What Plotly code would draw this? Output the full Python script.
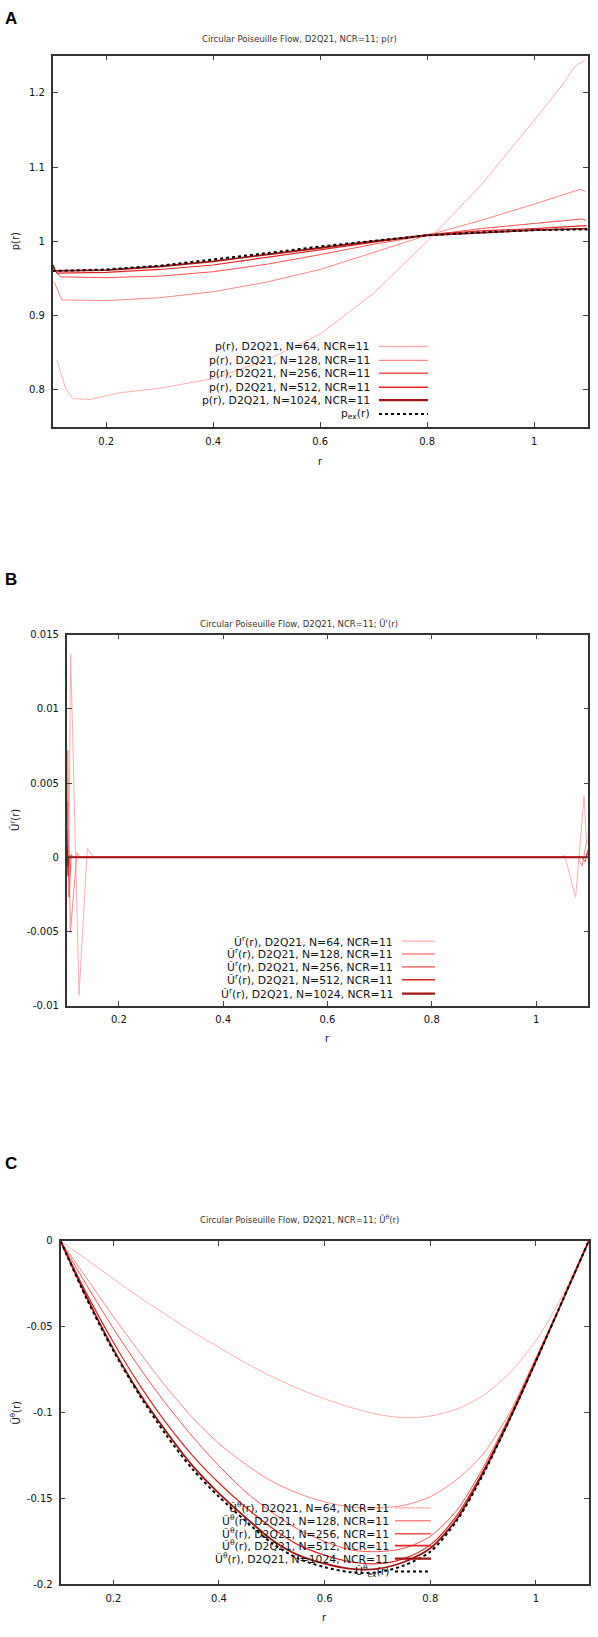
import plotly.graph_objects as go

W, H = 598, 1637

# ---------------- Panel A : p(r) ----------------
rA_64 = [0.108, 0.125, 0.138, 0.17, 0.226, 0.3, 0.4, 0.5, 0.6, 0.7, 0.8, 0.9, 1.0, 1.05, 1.077, 1.095]
pA_64 = [0.840, 0.800, 0.788, 0.787, 0.796, 0.802, 0.815, 0.840, 0.875, 0.930, 1.000, 1.075, 1.163, 1.208, 1.236, 1.244]
rA_128 = [0.103, 0.117, 0.2, 0.3, 0.4, 0.5, 0.6, 0.7, 0.8, 0.9, 1.0, 1.086, 1.095]
pA_128 = [0.945, 0.921, 0.920, 0.924, 0.932, 0.945, 0.962, 0.985, 1.008, 1.028, 1.050, 1.070, 1.067]
rA_256 = [0.102, 0.115, 0.2, 0.3, 0.4, 0.5, 0.6, 0.7, 0.8, 0.9, 1.0, 1.09, 1.097]
pA_256 = [0.962, 0.952, 0.951, 0.953, 0.959, 0.969, 0.982, 0.996, 1.008, 1.017, 1.024, 1.030, 1.028]
rA_512 = [0.101, 0.108, 0.2, 0.3, 0.4, 0.5, 0.6, 0.7, 0.8, 0.9, 1.0, 1.098]
pA_512 = [0.966, 0.957, 0.958, 0.962, 0.968, 0.978, 0.988, 0.999, 1.009, 1.014, 1.017, 1.021]
rA_1024 = [0.1005, 0.104, 0.2, 0.3, 0.4, 0.5, 0.6, 0.7, 0.8, 0.9, 1.0, 1.099]
pA_1024 = [0.968, 0.960, 0.961, 0.966, 0.973, 0.982, 0.991, 1.000, 1.008, 1.012, 1.015, 1.017]
rA_ex = [0.1, 0.2, 0.3, 0.4, 0.5, 0.6, 0.7, 0.8, 0.9, 1.0, 1.1]
pA_ex = [0.960, 0.962, 0.967, 0.975, 0.984, 0.993, 1.001, 1.008, 1.012, 1.015, 1.016]

# ---------------- Panel B : U^r(r) ----------------
rB_64 = [0.1, 0.104, 0.1077, 0.1236, 0.1395, 0.152, 1.045, 1.055, 1.0757, 1.0918, 1.097]
uB_64 = [0.0, 0.0, 0.0137, -0.0093, 0.0006, 0.0, 0.0, 0.0001, -0.0027, 0.0041, 0.0009]
rB_128 = [0.1, 0.1015, 0.102, 0.1069, 0.1197, 0.126, 1.08, 1.088, 1.097]
uB_128 = [0.0, 0.0, 0.0072, -0.0051, 0.0003, 0.0, 0.0, -0.0006, 0.0011]
rB_256 = [0.1, 0.1012, 0.1044, 0.1085, 0.112, 1.088, 1.094, 1.099]
uB_256 = [0.0, 0.0037, -0.0027, 0.0002, 0.0, 0.0, -0.0003, 0.0005]
rB_512 = [0.1, 0.1005, 0.1025, 0.105, 0.107, 1.095, 1.0995]
uB_512 = [0.0, 0.0019, -0.0013, 0.0001, 0.0, 0.0, 0.0003]
rB_1024 = [0.1, 0.1008, 0.102, 1.1]
uB_1024 = [0.0008, -0.0006, 0.0, 0.0]

# ---------------- Panel C : U^theta(r) ----------------
rC = [0.1, 0.15, 0.2, 0.25, 0.3, 0.35, 0.4, 0.45, 0.5, 0.55, 0.6,
      0.65, 0.7, 0.75, 0.8, 0.85, 0.9, 0.95, 1.0, 1.05, 1.1]
uC_64 = [0, -0.011, -0.022, -0.033, -0.043, -0.053, -0.062, -0.071, -0.079, -0.086, -0.092,
         -0.097, -0.101, -0.103, -0.102, -0.098, -0.090, -0.077, -0.058, -0.032, 0]
uC_128 = [0, -0.022, -0.044, -0.065, -0.085, -0.103, -0.118, -0.130, -0.140, -0.147, -0.152,
          -0.155, -0.1555, -0.154, -0.149, -0.139, -0.124, -0.100, -0.068, -0.035, 0]
uC_256 = [0, -0.026, -0.051, -0.074, -0.095, -0.114, -0.131, -0.146, -0.158, -0.168, -0.175,
          -0.180, -0.181, -0.179, -0.172, -0.157, -0.132, -0.102, -0.069, -0.035, 0]
uC_512 = [0, -0.031, -0.059, -0.084, -0.106, -0.125, -0.141, -0.155, -0.167, -0.177, -0.183,
          -0.187, -0.188, -0.185, -0.177, -0.160, -0.134, -0.103, -0.069, -0.035, 0]
uC_1024 = [0, -0.033, -0.063, -0.089, -0.111, -0.131, -0.147, -0.161, -0.174, -0.183, -0.188,
           -0.191, -0.191, -0.187, -0.179, -0.162, -0.135, -0.104, -0.070, -0.035, 0]
uC_ex = [0, -0.034, -0.064, -0.090, -0.113, -0.133, -0.149, -0.163, -0.176, -0.185, -0.190,
         -0.193, -0.193, -0.189, -0.181, -0.163, -0.136, -0.104, -0.070, -0.035, 0]

N_labels = ["64", "128", "256", "512", "1024"]
x_ticks = [0.2, 0.4, 0.6, 0.8, 1.0]
x_ticktext = ["0.2", "0.4", "0.6", "0.8", "1"]
yA_ticks = [0.8, 0.9, 1.0, 1.1, 1.2]
yA_text = ["0.8", "0.9", "1", "1.1", "1.2"]
yB_ticks = [-0.01, -0.005, 0, 0.005, 0.01, 0.015]
yB_text = ["-0.01", "-0.005", "0", "0.005", "0.01", "0.015"]
yC_ticks = [-0.2, -0.15, -0.1, -0.05, 0]
yC_text = ["-0.2", "-0.15", "-0.1", "-0.05", "0"]

colors = ["rgb(255,175,175)", "rgb(255,135,135)", "rgb(255,80,80)", "rgb(228,35,35)", "rgb(160,20,20)"]
widths = [1, 1, 1, 1.2, 1.8]


def px(x):
    return x / W


def py(y):
    return 1 - y / H


fig = go.Figure()

panelA = [(rA_64, pA_64), (rA_128, pA_128), (rA_256, pA_256), (rA_512, pA_512), (rA_1024, pA_1024)]
for (r, v), c, w in zip(panelA, colors, widths):
    fig.add_trace(go.Scatter(x=r, y=v, mode="lines", line=dict(color=c, width=w),
                             xaxis="x", yaxis="y", showlegend=False))
fig.add_trace(go.Scatter(x=rA_ex, y=pA_ex, mode="lines", line=dict(color="black", width=2, dash="dot"),
                         xaxis="x", yaxis="y", showlegend=False))

panelB = [(rB_64, uB_64), (rB_128, uB_128), (rB_256, uB_256), (rB_512, uB_512), (rB_1024, uB_1024)]
for (r, v), c, w in zip(panelB, colors, widths):
    fig.add_trace(go.Scatter(x=r, y=v, mode="lines", line=dict(color=c, width=w),
                             xaxis="x2", yaxis="y2", showlegend=False))

panelC = [uC_64, uC_128, uC_256, uC_512, uC_1024]
for v, c, w in zip(panelC, colors, widths):
    fig.add_trace(go.Scatter(x=rC, y=v, mode="lines", line=dict(color=c, width=w, shape="spline", smoothing=0.8),
                             xaxis="x3", yaxis="y3", showlegend=False))
fig.add_trace(go.Scatter(x=rC, y=uC_ex, mode="lines",
                         line=dict(color="black", width=2, dash="dot", shape="spline", smoothing=0.8),
                         xaxis="x3", yaxis="y3", showlegend=False))

tickfont = dict(family="DejaVu Sans", size=10, color="#111")


def xax(x0, x1, anchor):
    return dict(domain=[px(x0), px(x1)], range=[0.1, 1.1], tickvals=x_ticks, ticktext=x_ticktext,
                ticks="inside", ticklen=5, tickcolor="#444", tickwidth=1, mirror="ticks",
                showline=True, linecolor="#333", linewidth=1.6, showgrid=False, zeroline=False,
                tickfont=tickfont, anchor=anchor, ticklabelstandoff=4)


def yax(y0, y1, rng, tv, tt, anchor):
    return dict(domain=[py(y1), py(y0)], range=rng, tickvals=tv, ticktext=tt,
                ticks="inside", ticklen=5, tickcolor="#444", tickwidth=1, mirror="ticks",
                showline=True, linecolor="#333", linewidth=1.6, showgrid=False, zeroline=False,
                tickfont=tickfont, anchor=anchor, ticklabelstandoff=4)


# plot-area boxes (px)
A_box = (52.7, 587.7, 50, 424)
B_box = (66.7, 588.3, 633.3, 1007)
C_box = (60.5, 588.8, 1244, 1590)

fig.update_layout(
    width=W, height=H, margin=dict(l=0, r=0, t=0, b=0),
    paper_bgcolor="white", plot_bgcolor="white",
    xaxis=xax(A_box[0], A_box[1], "y"),
    yaxis=yax(A_box[2], A_box[3], [0.75, 1.25], yA_ticks, yA_text, "x"),
    xaxis2=xax(B_box[0], B_box[1], "y2"),
    yaxis2=yax(B_box[2], B_box[3], [-0.01, 0.015], yB_ticks, yB_text, "x2"),
    xaxis3=xax(C_box[0], C_box[1], "y3"),
    yaxis3=yax(C_box[2], C_box[3], [-0.2, 0.0], yC_ticks, yC_text, "x3"),
)

ann = []
shapes = []


def text(x, y, s, size=10, anchor="center", family="DejaVu Sans", color="#111", angle=0, bold=False):
    ann.append(dict(x=px(x), y=py(y), xref="paper", yref="paper", text=("<b>%s</b>" % s) if bold else s,
                    showarrow=False, xanchor=anchor, yanchor="middle", textangle=angle,
                    font=dict(family=family, size=size, color=color)))


# panel letters
text(3, 13, "A", size=17, anchor="left", family="Liberation Sans", color="black", bold=True)
text(3, 578, "B", size=17, anchor="left", family="Liberation Sans", color="black", bold=True)
text(3, 1166, "C", size=17, anchor="left", family="Liberation Sans", color="black", bold=True)

# titles
text(299, 33, "Circular Poiseuille Flow, D2Q21, NCR=11; p(r)", size=8.5, color="#333")
text(299, 622, "Circular Poiseuille Flow, D2Q21, NCR=11; Ũ<sup>r</sup>(r)", size=8.5, color="#333")
text(299, 1222, "Circular Poiseuille Flow, D2Q21, NCR=11; Ũ<sup>θ</sup>(r)", size=8.5, color="#333")

# axis titles
text(320, 459, "r", size=10)
text(327, 1040, "r", size=10)
text(324, 1623, "r", size=10)
text(15, 237, "p(r)", size=10, angle=-90)
text(15, 820, "Ũ<sup>r</sup>(r)", size=10, angle=-90)
text(15, 1417, "Ũ<sup>θ</sup>(r)", size=10, angle=-90)


def legend(rows, labels, xr, xs0, xs1, styles):
    for y, lab, (c, w, d) in zip(rows, labels, styles):
        text(xr, y, lab, size=10.8, anchor="right", color="#111")
        shapes.append(dict(type="line", xref="paper", yref="paper", x0=px(xs0), x1=px(xs1),
                           y0=py(y), y1=py(y), line=dict(color=c, width=w, dash=d)))


red_styles = [(c, w + 0.4, "solid") for c, w in zip(colors, widths)]
ex_style = ("black", 2, "dot")

legend([343, 357, 370, 384, 397, 411],
       ["p(r), D2Q21, N=%s, NCR=11" % n for n in N_labels] + ["p<sub>ex</sub>(r)"],
       372, 379, 428, red_styles + [ex_style])
legend([942, 955, 968, 981, 995],
       ["Ũ<sup>r</sup>(r), D2Q21, N=%s, NCR=11" % n for n in N_labels],
       395, 402, 435, red_styles)
legend([1513, 1526, 1539, 1551, 1564, 1577],
       ["Ũ<sup>θ</sup>(r), D2Q21, N=%s, NCR=11" % n for n in N_labels] + ["Ũ<sup>θ</sup><sub>ex</sub>(r)"],
       391, 395, 431, red_styles + [ex_style])

fig.update_layout(annotations=ann, shapes=shapes)

fig.write_html("out.html", config={"displayModeBar": False},
               post_script="document.body.style.margin='0';document.body.style.padding='0';")
